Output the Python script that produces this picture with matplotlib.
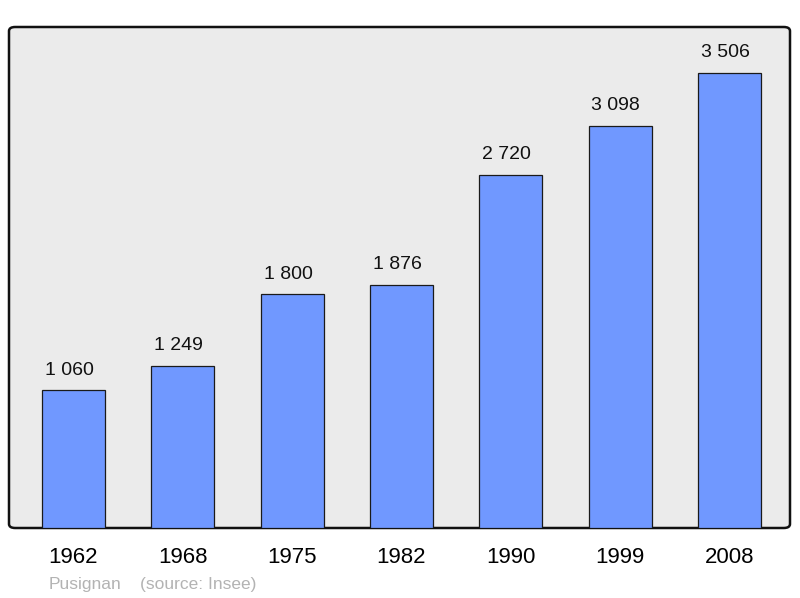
import matplotlib.pyplot as plt
from matplotlib.patches import FancyBboxPatch

plt.rcParams['font.family'] = ['Liberation Sans', 'DejaVu Sans']

# population de Pusignan
annees = ['1962', '1968', '1975', '1982', '1990', '1999', '2008']
population = [1060, 1249, 1800, 1876, 2720, 3098, 3506]
etiquettes = ['1 060', '1 249', '1 800', '1 876', '2 720', '3 098', '3 506']

fig = plt.figure(figsize=(8, 5.98), dpi=100)
ax = fig.add_axes([9 / 800, 70 / 598, 781 / 800, 501 / 598])
ax.set_facecolor('none')
for s in ax.spines.values():
    s.set_visible(False)

# fond gris arrondi
fond = FancyBboxPatch((0, 0), 1, 1, boxstyle='round,pad=0,rounding_size=0.008',
                      transform=ax.transAxes, facecolor='#ebebeb', edgecolor='#111111',
                      linewidth=1.8, zorder=0, clip_on=False)
ax.add_patch(fond)

x = range(len(annees))
barres = ax.bar(x, population, width=0.576, color='#7098ff', edgecolor='#1a1a1a',
                linewidth=0.9, zorder=2)

for i, (v, t) in enumerate(zip(population, etiquettes)):
    ax.annotate(t, (i, v), xytext=(-3, 8.5), textcoords='offset points',
                ha='center', va='bottom', fontsize=14, color='#111111')

ax.set_xlim(-0.59, 6.555)
ax.set_ylim(0, 3860)
ax.set_yticks([])
ax.set_xticks(list(x))
ax.set_xticklabels(annees, fontsize=16)
ax.tick_params(axis='x', length=0, pad=14)

fig.text(49 / 800, 1 - 584 / 598, 'Pusignan', color='#b3b3b3', fontsize=12.5, va='center')
fig.text(140 / 800, 1 - 584 / 598, '(source: Insee)', color='#b3b3b3', fontsize=12.5, va='center')

fig.savefig('out.png', dpi=100)
